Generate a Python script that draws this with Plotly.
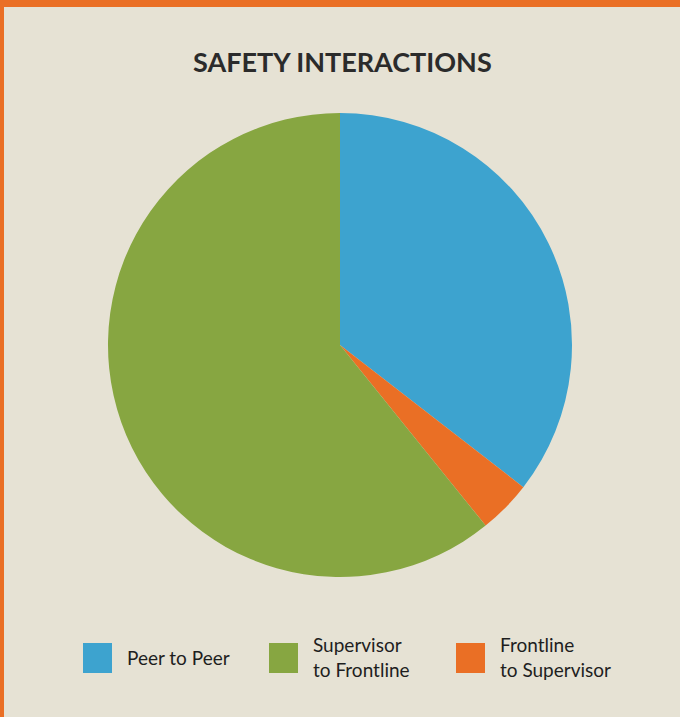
import plotly.graph_objects as go

W, H = 680, 717

# Data (clockwise order from 12 o'clock)
labels = ["Peer to Peer", "Frontline to Supervisor", "Supervisor to Frontline"]
values = [35.5, 3.7, 60.8]
colors = ["#3DA3CF", "#EA6F25", "#87A641"]

# Legend order and display text
legend_labels = ["Peer to Peer", "Supervisor<br>to Frontline", "Frontline<br>to Supervisor"]
legend_colors = ["#3DA3CF", "#87A641", "#EA6F25"]
legend_box_x = [83, 269, 456]

BG = "#E6E2D4"
FONT = "Lato"

def px_x(x):
    return x / W

def px_y(y):
    return 1 - y / H

fig = go.Figure()
fig.add_trace(go.Pie(
    labels=labels,
    values=values,
    marker=dict(colors=colors, line=dict(width=0)),
    sort=False,
    direction="clockwise",
    rotation=0,
    textinfo="none",
    hoverinfo="label+percent",
    showlegend=False,
    domain=dict(x=[px_x(108), px_x(572)], y=[px_y(577), px_y(113)]),
))

shapes = [
    dict(type="rect", xref="paper", yref="paper", x0=0, x1=1, y0=px_y(7), y1=1,
         fillcolor="#EA6F25", line=dict(width=0), layer="above"),
    dict(type="rect", xref="paper", yref="paper", x0=0, x1=px_x(4), y0=0, y1=1,
         fillcolor="#EA6F25", line=dict(width=0), layer="above"),
]
annotations = [
    dict(text="<b>SAFETY INTERACTIONS</b>", x=px_x(342), y=px_y(61), xref="paper", yref="paper",
         showarrow=False, xanchor="center", yanchor="middle",
         font=dict(family=FONT, size=27, color="#2B2B2B")),
]
for lab, col, bx in zip(legend_labels, legend_colors, legend_box_x):
    shapes.append(dict(type="rect", xref="paper", yref="paper",
                       x0=px_x(bx), x1=px_x(bx + 29), y0=px_y(673), y1=px_y(643),
                       fillcolor=col, line=dict(width=0)))
    annotations.append(dict(text=lab, x=px_x(bx + 42), y=px_y(657), xref="paper", yref="paper",
                            showarrow=False, xanchor="left", yanchor="middle", align="left",
                            font=dict(family=FONT, size=19, color="#1E1E1E")))

fig.update_layout(
    width=W, height=H,
    margin=dict(l=0, r=0, t=0, b=0),
    paper_bgcolor=BG, plot_bgcolor=BG,
    shapes=shapes, annotations=annotations,
    showlegend=False,
)

fig.write_html("out.html")
